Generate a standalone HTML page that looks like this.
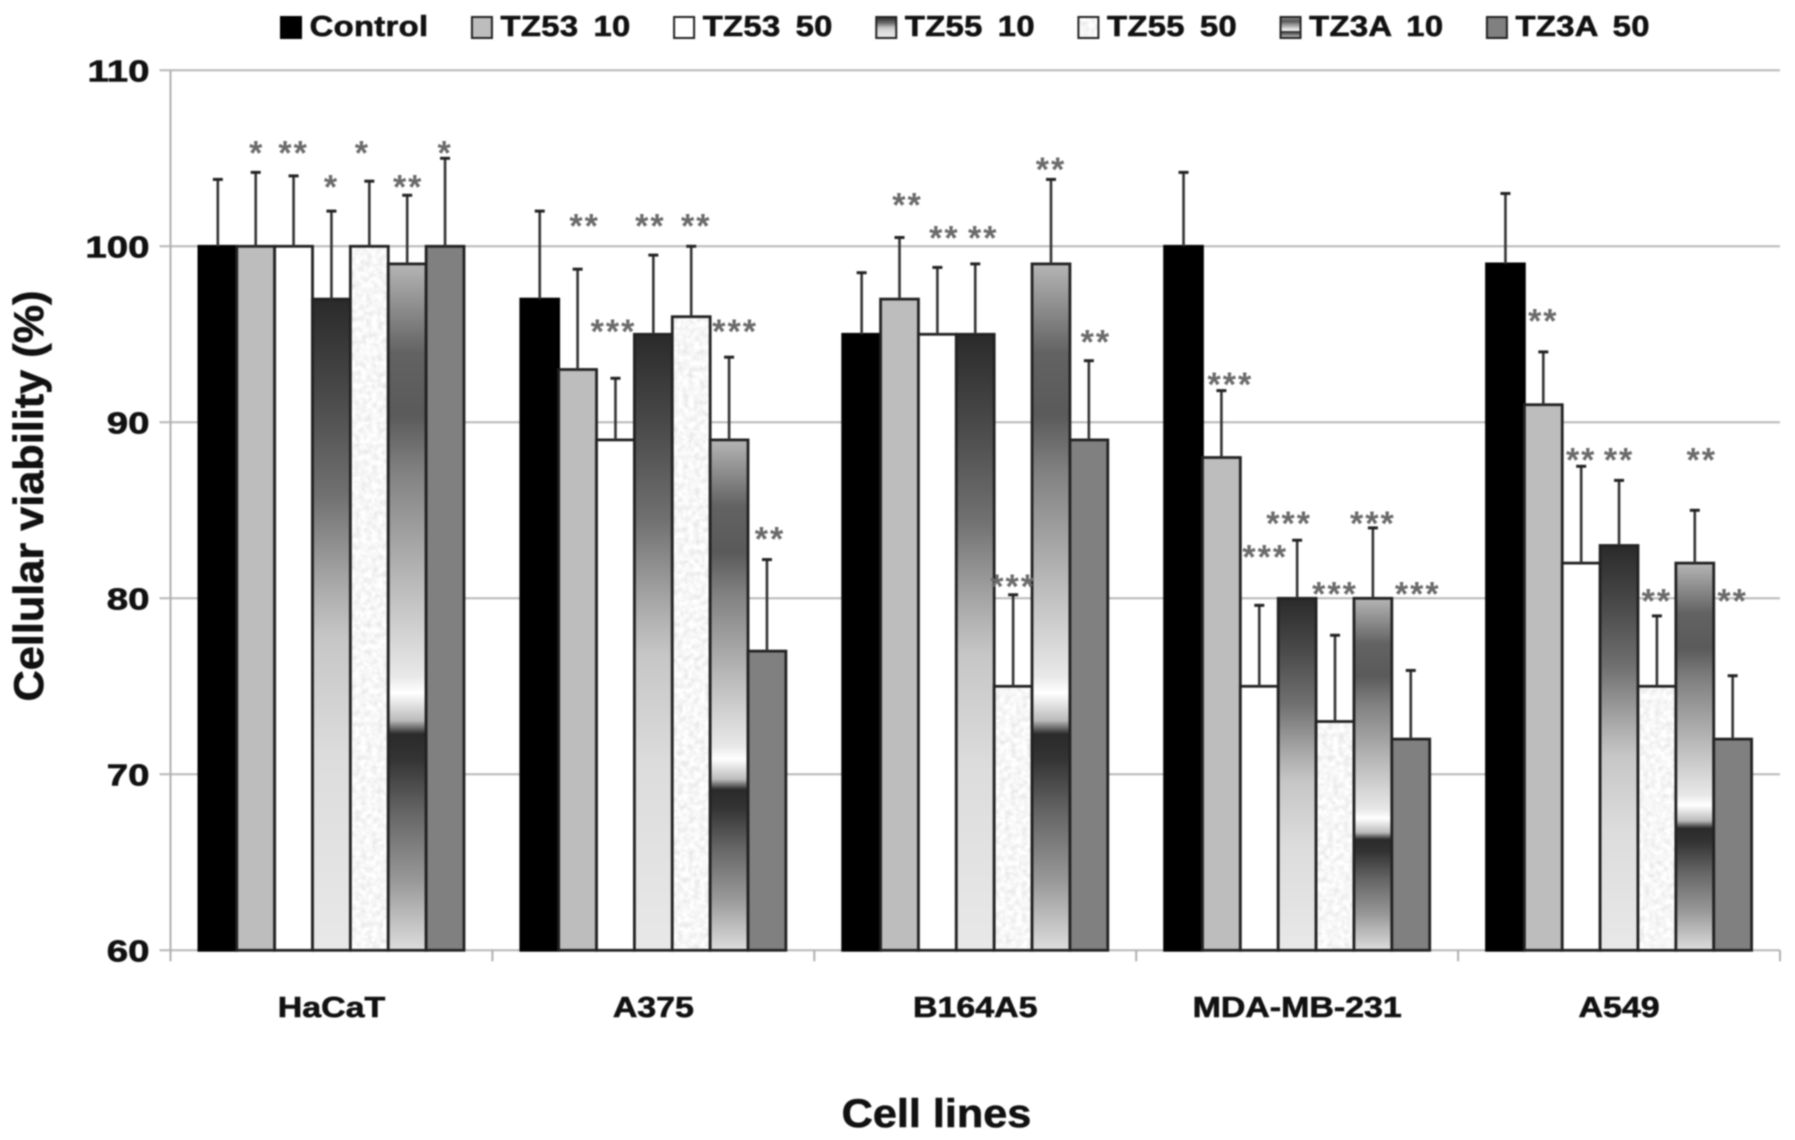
<!DOCTYPE html>
<html lang="en">
<head>
<meta charset="utf-8">
<title>Cellular viability by cell line</title>
<style>
  html, body { margin: 0; padding: 0; background: #fff; }
  body { width: 1795px; height: 1140px; overflow: hidden; }
  #chart { display: block; filter: blur(0.7px); font-family: "Liberation Sans", Arial, sans-serif; }
</style>
</head>
<body>
<svg id="chart" xmlns="http://www.w3.org/2000/svg" width="1795" height="1140" viewBox="0 0 1795 1140">
  <defs>
    <linearGradient id="grad-tz55-10" x1="0" y1="0" x2="0" y2="1">
      <stop offset="0" stop-color="#2a2a2a"/>
      <stop offset="0.15" stop-color="#4a4a4a"/>
      <stop offset="0.3" stop-color="#707070"/>
      <stop offset="0.45" stop-color="#adadad"/>
      <stop offset="0.52" stop-color="#c6c6c6"/>
      <stop offset="0.7" stop-color="#dcdcdc"/>
      <stop offset="1" stop-color="#e8e8e8"/>
    </linearGradient>
    <linearGradient id="grad-tz3a-10" x1="0" y1="0" x2="0" y2="1">
      <stop offset="0" stop-color="#b5b5b5"/>
      <stop offset="0.13" stop-color="#626262"/>
      <stop offset="0.22" stop-color="#5a5a5a"/>
      <stop offset="0.3" stop-color="#808080"/>
      <stop offset="0.45" stop-color="#b4b4b4"/>
      <stop offset="0.6" stop-color="#e8e8e8"/>
      <stop offset="0.625" stop-color="#fff"/>
      <stop offset="0.665" stop-color="#bbb"/>
      <stop offset="0.685" stop-color="#2a2a2a"/>
      <stop offset="0.72" stop-color="#333"/>
      <stop offset="0.8" stop-color="#666"/>
      <stop offset="0.9" stop-color="#999"/>
      <stop offset="1" stop-color="#ddd"/>
    </linearGradient>
    <filter id="speckle" x="0" y="0" width="1" height="1">
      <feTurbulence type="fractalNoise" baseFrequency="0.18" numOctaves="3" seed="4"/>
      <feColorMatrix type="matrix" values="0.38 0 0 0 0.74  0.38 0 0 0 0.74  0.38 0 0 0 0.74  0 0 0 0 1"/>
    </filter>
  </defs>
  <g id="grid"></g>
  <g id="axes"></g>
  <g id="bars"></g>
  <g id="errors"></g>
  <g id="stars"></g>
  <g id="legend"></g>
  <g id="labels"></g>
</svg>
<script>
// ---- chart data ----
const categories = ['HaCaT', 'A375', 'B164A5', 'MDA-MB-231', 'A549'];
const seriesNames = ['Control', 'TZ53 10', 'TZ53 50', 'TZ55 10', 'TZ55 50', 'TZ3A 10', 'TZ3A 50'];
const yTicks = [60, 70, 80, 90, 100, 110];
const seriesFills = ['#000', '#bdbdbd', '#fff', 'url(#grad-tz55-10)', '#efefef', 'url(#grad-tz3a-10)', '#808080'];

const control = [100, 97, 95, 100, 99];
const tz53_10 = [100, 93, 97, 88, 91];
const tz53_50 = [100, 89, 95, 75, 82];
const tz55_10 = [97, 95, 95, 80, 83];
const tz55_50 = [100, 96, 75, 73, 75];
const tz3a_10 = [99, 89, 99, 80, 82];
const tz3a_50 = [100, 77, 89, 72, 72];
const seriesValues = [control, tz53_10, tz53_50, tz55_10, tz55_50, tz3a_10, tz3a_50];

const errControl = [3.8, 5, 3.5, 4.2, 4];
const errTz53_10 = [4.2, 5.7, 3.5, 3.8, 3];
const errTz53_50 = [4, 3.5, 3.8, 4.6, 5.5];
const errTz55_10 = [5, 4.5, 4, 3.3, 3.7];
const errTz55_50 = [3.7, 4, 5.2, 4.9, 4];
const errTz3a_10 = [3.9, 4.7, 4.8, 4, 3];
const errTz3a_50 = [5, 5.2, 4.5, 3.9, 3.6];
const seriesErrors = [errControl, errTz53_10, errTz53_50, errTz55_10, errTz55_50, errTz3a_10, errTz3a_50];

const starTz53_10 = ['*', '**', '**', '***', '**'];
const starTz53_50 = ['**', '***', '**', '***', '**'];
const starTz55_10 = ['*', '**', '**', '***', '**'];
const starTz55_50 = ['*', '**', '***', '***', '**'];
const starTz3a_10 = ['**', '***', '**', '***', '**'];
const starTz3a_50 = ['*', '**', '**', '***', '**'];
const seriesStars = [null, starTz53_10, starTz53_50, starTz55_10, starTz55_50, starTz3a_10, starTz3a_50];

const levelTz53_10 = [105.45, 101.3, 102.5, 92.3, 95.9];
const levelTz53_50 = [105.45, 95.3, 100.6, 82.5, 88];
const levelTz55_10 = [103.5, 101.3, 100.6, 84.4, 88];
const levelTz55_50 = [105.45, 101.3, 80.8, 80.4, 80];
const levelTz3a_10 = [103.5, 95.3, 104.5, 84.4, 88];
const levelTz3a_50 = [105.45, 83.5, 94.7, 80.4, 80];
const seriesStarLevels = [null, levelTz53_10, levelTz53_50, levelTz55_10, levelTz55_50, levelTz3a_10, levelTz3a_50];

const xAxisTitle = 'Cell lines';
const yAxisTitle = 'Cellular viability (%)';

// ---- layout & scales ----
const NS = 'http://www.w3.org/2000/svg';
const plotLeft = 170.5, plotRight = 1780, plotBottom = 950.3, unitsPerPx = 17.6;
const yMin = yTicks[0];
const textureSeries = 4;
// hand-placement of the significance markers relative to their bar centre (series, then group)
const starNudge = [
  [0, 0, 0, 0, 0],
  [1, 7, 8, 9, 0],
  [0, -2, 7, 6, 0],
  [0, -3, 8, -8, 0],
  [-7, 5, 0, 0, 0],
  [1, 6, 0, 0, 7],
  [0, 3, 7, 7, 0]
];
function yScale(v) { return plotBottom - (v - yMin) * unitsPerPx; }
function groupWidth() { return (plotRight - plotLeft) / categories.length; }
function barWidth() { return groupWidth() / (seriesNames.length + 1.5); }
function groupLeft(g) { return plotLeft + g * groupWidth(); }
function barX(g, s) { return groupLeft(g) + barWidth() * 0.75 + s * barWidth(); }

function make(tag, parent, attrs) {
  const el = document.createElementNS(NS, tag);
  for (const k in attrs) el.setAttribute(k, attrs[k]);
  parent.appendChild(el);
  return el;
}
function makeText(parent, str, x, y, size, sx, anchor, fill, weight) {
  const el = make('text', parent, {
    transform: 'translate(' + x + ' ' + y + ') scale(' + sx + ' 1)',
    'font-size': size, 'text-anchor': anchor, fill: fill, 'font-weight': weight,
    stroke: fill, 'stroke-width': 0.6
  });
  el.textContent = str;
  return el;
}

const gridG = document.getElementById('grid');
const axesG = document.getElementById('axes');
const barsG = document.getElementById('bars');
const errorsG = document.getElementById('errors');
const starsG = document.getElementById('stars');
const legendG = document.getElementById('legend');
const labelsG = document.getElementById('labels');

// gridlines, y ticks, y tick labels
yTicks.forEach(function (t) {
  const line = make('line', gridG, { x1: plotLeft - 11, x2: plotRight, y1: yScale(t), y2: yScale(t), stroke: '#b8b8b8', 'stroke-width': 2 });
  
  
  const label = makeText(labelsG, String(t), plotLeft - 21, yScale(t) + 11, 31, 1.24, 'end', '#111', 'bold');
  
  
});

// axes
const yAxis = make('line', axesG, { x1: plotLeft, x2: plotLeft, y1: yScale(yTicks[yTicks.length - 1]), y2: plotBottom + 11, stroke: '#b0b0b0', 'stroke-width': 2 });


for (let g = 1; g <= categories.length; g++) {
  const tick = make('line', axesG, { x1: groupLeft(g), x2: groupLeft(g), y1: plotBottom, y2: plotBottom + 11, stroke: '#b0b0b0', 'stroke-width': 2 });
  
  
}

// bars, error bars, stars
seriesNames.forEach(function (name, s) {
  const key = name.toLowerCase().replace(/\s+/g, '-');
  categories.forEach(function (cat, g) {
    const catKey = cat.toLowerCase();
    const v = seriesValues[s][g];
    const x = barX(g, s), w = barWidth(), top = yScale(v), h = plotBottom - top;
    if (s === textureSeries) {
      const tex = make('rect', barsG, { x: x, y: top, width: w, height: h, fill: '#efefef', filter: 'url(#speckle)' });
      
      
    }
    const bar = make('rect', barsG, {
      x: x, y: top, width: w, height: h,
      fill: s === textureSeries ? 'none' : seriesFills[s],
      stroke: s === 0 ? '#000' : '#222', 'stroke-width': 2.8
    });
    
    

    const cx = x + w / 2, errTop = yScale(v + seriesErrors[s][g]);
    const stem = make('line', errorsG, { x1: cx, x2: cx, y1: top, y2: errTop, stroke: '#333', 'stroke-width': 2.6 });
    
    
    const cap = make('line', errorsG, { x1: cx - 5, x2: cx + 5, y1: errTop, y2: errTop, stroke: '#222', 'stroke-width': 3 });
    
    

    if (seriesStars[s]) {
      const star = make('text', starsG, {
        x: cx + starNudge[s][g], y: yScale(seriesStarLevels[s][g]) + 14,
        'font-size': 34, 'font-weight': 'bold', 'text-anchor': 'middle', fill: '#6a6a6a', 'letter-spacing': 2
      });
      star.textContent = seriesStars[s][g];
      
      
    }
  });
});

// category labels
categories.forEach(function (cat, g) {
  const label = makeText(labelsG, cat, groupLeft(g) + groupWidth() / 2, 1017, 29, 1.17, 'middle', '#111', 'bold');
  
  
});

// axis titles
const xTitle = makeText(labelsG, xAxisTitle, 936.5, 1127, 40, 1.08, 'middle', '#111', 'bold');


const yTitle = make('text', labelsG, {
  transform: 'translate(43 496) rotate(-90) scale(1.03 1)',
  'font-size': 42, 'font-weight': 'bold', 'text-anchor': 'middle', fill: '#111', stroke: '#111', 'stroke-width': 0.6
});
yTitle.textContent = yAxisTitle;



// legend
const legendSx = 1.13;
let legendX = 281;
seriesNames.forEach(function (name, s) {
  const key = name.toLowerCase().replace(/\s+/g, '-');
  if (s === textureSeries) {
    const tex = make('rect', legendG, { x: legendX, y: 17, width: 20, height: 21, fill: '#efefef', filter: 'url(#speckle)' });
    
    
  }
  const swatch = make('rect', legendG, {
    x: legendX, y: 17, width: 20, height: 21,
    fill: s === textureSeries ? 'none' : seriesFills[s],
    stroke: s === 0 ? '#000' : '#222', 'stroke-width': 2
  });
  
  
  const label = makeText(legendG, name, legendX + 28.6, 36, 29, legendSx, 'start', '#111', 'bold');
  label.setAttribute('letter-spacing', 0.3);
  label.setAttribute('word-spacing', 5);
  
  
  legendX += 28.6 + label.getComputedTextLength() * legendSx + 43.5;
});
</script>
</body>
</html>
